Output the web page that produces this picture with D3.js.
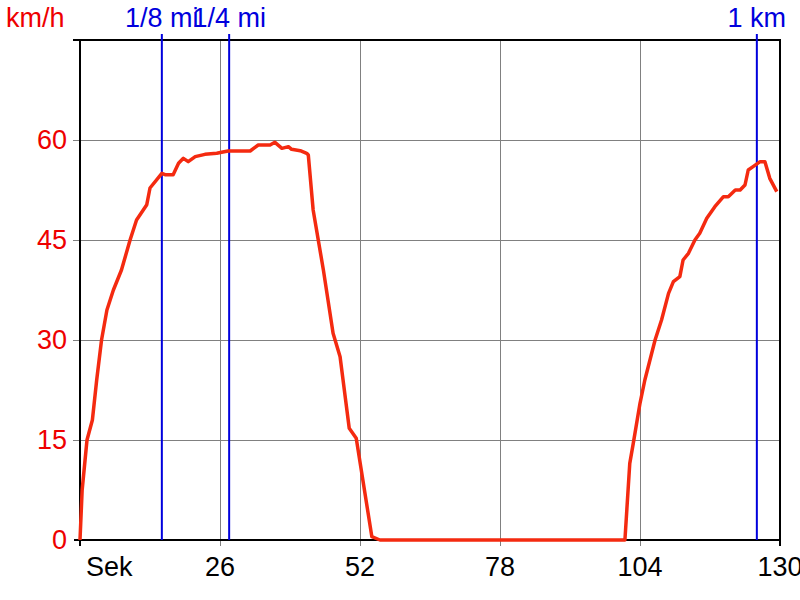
<!DOCTYPE html>
<html><head><meta charset="utf-8">
<script src="https://cdn.jsdelivr.net/npm/d3@7"></script>
<style>body{margin:0;background:#fff}svg{display:block}</style>
</head><body>
<svg id="c" width="800" height="600"></svg>
<script>
const timeSec = [0,0.4,1.3,2.3,3.1,4.0,5.0,6.2,7.7,9.3,10.5,12.4,13,15.2,15.8,17.3,18.3,19.2,20.1,21.4,23.2,25.4,26.3,27.5,31.6,33.1,35.3,36.2,37.5,38.7,39.3,40.9,42.1,42.4,43.3,45.2,47.0,48.3,50.0,51.3,54.2,55.7,101.2,102.1,102.75,104,104.9,106.8,108,109.3,110.2,111.4,112,113,114.2,115.1,116.4,117.9,119.5,120.4,121.7,122.6,123.5,124.1,125,126.3,127.2,128.1,129.4];
const speedKmh = [0,7.5,15,18,24,30,34.5,37.5,40.5,45,48,50.3,52.8,55,54.8,54.8,56.5,57.25,56.75,57.5,57.85,58,58.15,58.35,58.35,59.25,59.25,59.65,58.75,59,58.6,58.4,58,57.75,49.5,40.5,31,27.5,16.75,15.25,0.5,0,0,11.5,14.5,20.5,24,30,33,37,38.75,39.5,42,43,45,46,48.25,50,51.5,51.5,52.5,52.5,53.25,55.5,56,56.75,56.75,54.25,52.25];
const xTicks = [26,52,78,104,130];
const yTicks = [0,15,30,45,60];
const markerNames = ["1/8 mi","1/4 mi","1 km"];
const markerTimes = [15.2,27.7,125.7];

const svg = d3.select("#c");
const L=80,R=780,T=40,B=540;
const x = d3.scaleLinear().domain([0,130]).range([L,R]);
const y = d3.scaleLinear().domain([0,75]).range([B,T]);
const font = "'Liberation Sans', Arial, sans-serif";
const fs = 27;

// grid
svg.append("g").selectAll("line").data(xTicks.slice(0,-1)).join("line")
  .attr("x1",d=>x(d)).attr("x2",d=>x(d)).attr("y1",T).attr("y2",B+6)
  .attr("stroke","#808080").attr("stroke-width",1).attr("shape-rendering","crispEdges");
svg.append("g").selectAll("line").data(yTicks.slice(1)).join("line")
  .attr("x1",L-7).attr("x2",R).attr("y1",d=>y(d)).attr("y2",d=>y(d))
  .attr("stroke","#808080").attr("stroke-width",1).attr("shape-rendering","crispEdges");

// frame
const fr = svg.append("g").attr("stroke","#000").attr("stroke-width",2);
fr.append("line").attr("x1",L-7).attr("x2",R+1).attr("y1",T).attr("y2",T);
fr.append("line").attr("x1",L-6).attr("x2",R+1).attr("y1",B).attr("y2",B);
fr.append("line").attr("x1",L).attr("x2",L).attr("y1",T).attr("y2",B+6);
fr.append("line").attr("x1",R).attr("x2",R).attr("y1",T).attr("y2",B+6);

// markers
svg.append("g").selectAll("line").data(markerTimes).join("line")
  .attr("x1",d=>x(d)).attr("x2",d=>x(d)).attr("y1",T-6).attr("y2",B)
  .attr("stroke","#0000dd").attr("stroke-width",2);
svg.append("g").selectAll("text").data(markerNames).join("text")
  .attr("x",(d,i)=>x(markerTimes[i])).attr("y",27).attr("text-anchor","middle")
  .attr("font-family",font).attr("font-size",fs).attr("fill","#0000dd").text(d=>d);

// line
svg.append("path").datum(timeSec.map((t,i)=>[t,speedKmh[i]]))
  .attr("d",d3.line().x(d=>x(d[0])).y(d=>y(d[1])))
  .attr("fill","none").attr("stroke","#f42a10").attr("stroke-width",3.5).attr("stroke-linejoin","round");

// y labels
svg.append("g").selectAll("text").data(yTicks).join("text")
  .attr("x",67).attr("y",d=>y(d)+9).attr("text-anchor","end")
  .attr("font-family",font).attr("font-size",fs).attr("fill","#ee0000").text(d=>d);
svg.append("text").attr("x",6).attr("y",27).attr("font-family",font).attr("font-size",fs)
  .attr("fill","#ee0000").text("km/h");

// x labels
svg.append("g").selectAll("text").data(xTicks).join("text")
  .attr("x",d=>x(d)).attr("y",576).attr("text-anchor","middle")
  .attr("font-family",font).attr("font-size",fs).attr("fill","#000").text(d=>d);
svg.append("text").attr("x",86).attr("y",576).attr("font-family",font).attr("font-size",fs)
  .attr("fill","#000").text("Sek");
</script>
</body></html>
